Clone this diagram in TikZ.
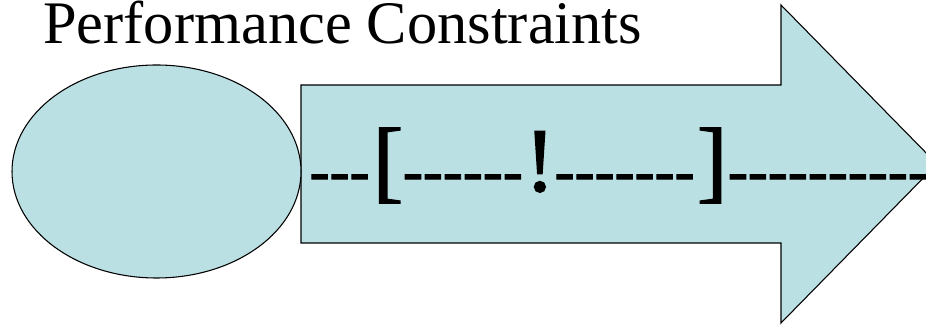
\documentclass[tikz,border=0pt]{standalone}
\usepackage{fontspec}
\setmainfont{Liberation Serif}
\newfontfamily\tnr{Liberation Serif}
\newfontfamily\tnrheavy{Liberation Serif}[FakeBold=1.6]
\usetikzlibrary{shapes.geometric}
\definecolor{shapefill}{RGB}{187,224,227}
\newcommand\dsh{\mbox{-}}
\begin{document}
\begin{tikzpicture}[x=0.75pt,y=-0.75pt,
  shapestyle/.style={fill=shapefill,draw=black,line width=0.8pt,line join=miter},
  dashrun/.style={anchor=base west,inner sep=0pt,font=\tnrheavy\fontsize{45}{50}\selectfont},
  bigglyph/.style={anchor=base west,inner sep=0pt,font=\tnrheavy\fontsize{68.25}{75}\selectfont}]
\useasboundingbox (0,0) rectangle (926,327);
\begin{scope}
\clip (0,0) rectangle (926,327);
% arrow
\draw[shapestyle] (301,85) -- (781,85) -- (781,5) -- (937,164) -- (781,323) -- (781,243) -- (301,243) -- cycle;
% ellipse
\node[shapestyle,ellipse,inner sep=0pt,
  minimum width=216.75pt,minimum height=159.75pt] (oval) at (156.5,171.5) {};
% title
\node[anchor=base west,inner sep=0pt,font=\tnr\fontsize{45.3}{50}\selectfont] (title) at (43,44) {Performance Constraints};
% dashed text
\node[dashrun] (r1) at (309.4,191) {\dsh\dsh\dsh};
\node[bigglyph] (lb) at (372.7,191) {[};
\node[dashrun] (r2) at (402.7,191) {\dsh\dsh\dsh\dsh\dsh\dsh};
\node[bigglyph] (ex) at (524.5,191) {!};
\node[dashrun] (r3) at (554.4,191) {\dsh\dsh\dsh\dsh\dsh\dsh\dsh};
\node[bigglyph] (rb) at (696.9,191) {]};
\node[dashrun] (r4) at (727.7,191) {\dsh\dsh\dsh\dsh\dsh\dsh\dsh\dsh\dsh\dsh};
\end{scope}
\end{tikzpicture}
\end{document}
